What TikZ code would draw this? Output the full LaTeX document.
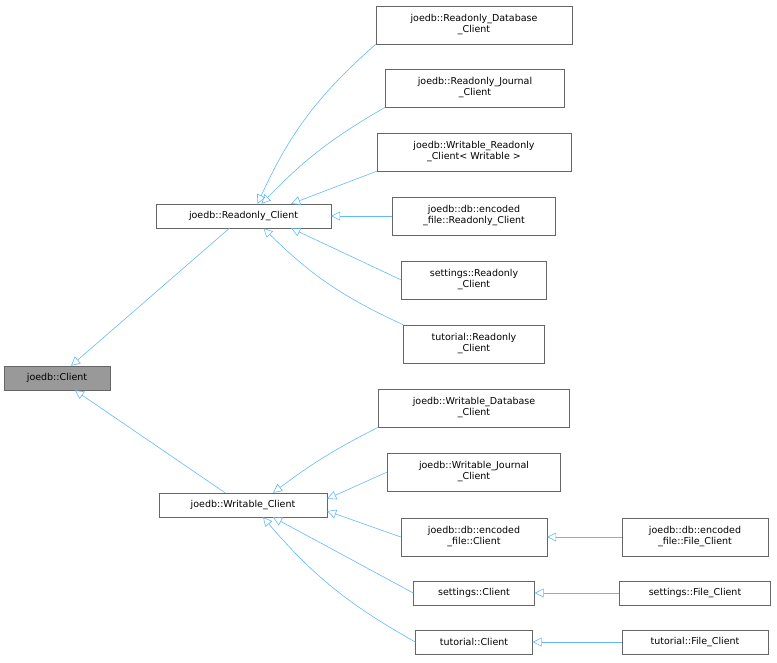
\documentclass[tikz,border=0pt]{standalone}
\usepackage{fontspec}
\setmainfont{DejaVu Sans}
\usetikzlibrary{arrows.meta}
\definecolor{edgec}{HTML}{63B8FF}
\tikzset{
 cls/.style={draw=black!60, fill=white, font=\fontsize{9.5}{11}\selectfont, align=center, inner sep=0pt, minimum height=24pt},
 edge/.style={draw=edgec, {Triangle[open,length=9pt,width=9pt]}-, line width=0.6pt},
}
\begin{document}
\begin{tikzpicture}[x=1pt,y=-1pt]
\useasboundingbox (0,0) rectangle (777,662);
\node[cls, fill=black!40, minimum width=106pt] (c) at (57,378) {joedb::Client};
\node[cls, minimum width=175pt] (rc) at (243.5,216) {joedb::Readonly\_Client};
\node[cls, minimum width=168pt] (wc) at (243,505) {joedb::Writable\_Client};
\node[cls, minimum width=196pt, minimum height=38pt] (a1) at (474,25) {joedb::Readonly\_Database\\\_Client};
\node[cls, minimum width=179pt, minimum height=38pt] (a2) at (475,88) {joedb::Readonly\_Journal\\\_Client};
\node[cls, minimum width=194pt, minimum height=38pt] (a3) at (474,152) {joedb::Writable\_Readonly\\\_Client< Writable >};
\node[cls, minimum width=163pt, minimum height=38pt] (a4) at (474,216) {joedb::db::encoded\\\_file::Readonly\_Client};
\node[cls, minimum width=145pt, minimum height=38pt] (a5) at (474,280) {settings::Readonly\\\_Client};
\node[cls, minimum width=141pt, minimum height=38pt] (a6) at (474,344) {tutorial::Readonly\\\_Client};
\node[cls, minimum width=191pt, minimum height=38pt] (b1) at (474,408) {joedb::Writable\_Database\\\_Client};
\node[cls, minimum width=173pt, minimum height=38pt] (b2) at (474,472) {joedb::Writable\_Journal\\\_Client};
\node[cls, minimum width=146pt, minimum height=38pt] (b3) at (474,537) {joedb::db::encoded\\\_file::Client};
\node[cls, minimum width=121pt] (b4) at (474,593) {settings::Client};
\node[cls, minimum width=117pt] (b5) at (474,642) {tutorial::Client};
\node[cls, minimum width=146pt, minimum height=38pt] (f1) at (695,537) {joedb::db::encoded\\\_file::File\_Client};
\node[cls, minimum width=151pt] (f2) at (695,593) {settings::File\_Client};
\node[cls, minimum width=146pt] (f3) at (695,642) {tutorial::File\_Client};
\draw[edge] (c) -- (rc);
\draw[edge] (c) -- (wc);
\draw[edge] (rc.north) ++(14,0) to[bend left=12] (a1.south west);
\draw[edge] (rc.north) ++(18,0) to[bend left=8] (a2.south west);
\draw[edge] (rc.north east) ++(-40,0) -- (a3.south west);
\draw[edge] (rc) -- (a4);
\draw[edge] (rc.south east) ++(-40,0) -- (a5.west);
\draw[edge] (rc.south) ++(20,0) to[bend right=10] (a6.north west);
\draw[edge] (wc.north) ++(30,0) to[bend left=5] (b1.south west);
\draw[edge] (wc.north east) ++(0,6) -- (b2.west);
\draw[edge] (wc.east) ++(0,6) -- (b3.west);
\draw[edge] (wc.south) ++(30,0) -- (b4.west);
\draw[edge] (wc.south) ++(20,0) to[bend right=10] (b5.west);
\draw[edge] (b3) -- (f1);
\draw[edge] (b4) -- (f2);
\draw[edge] (b5) -- (f3);
\end{tikzpicture}
\end{document}
